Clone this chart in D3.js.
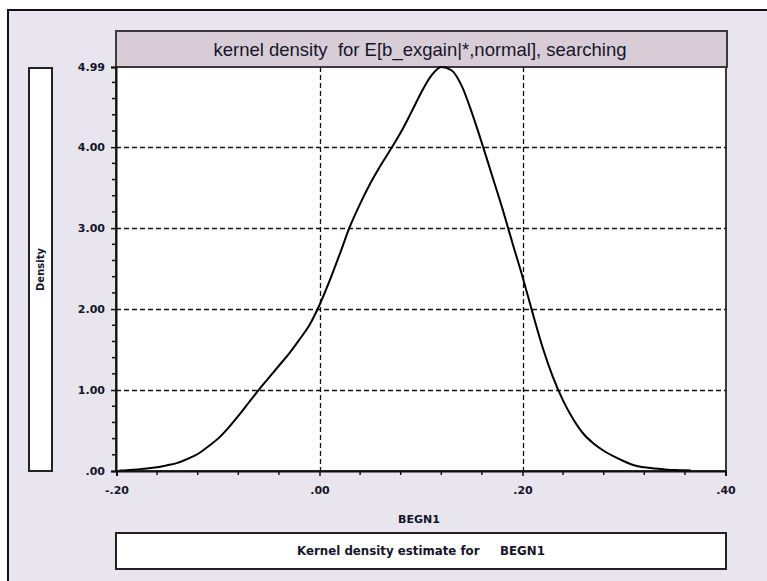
<!DOCTYPE html>
<html>
<head>
<meta charset="utf-8">
<script src="https://cdn.jsdelivr.net/npm/d3@7"></script>
<style>
  html, body { margin: 0; padding: 0; background: #ffffff; }
  svg { display: block; }
  text { font-family: "DejaVu Sans", Arial, sans-serif; fill: #15152a; }
</style>
</head>
<body>
<script>
// Kernel density estimate of BEGN1 (grid of evaluation points and density values)
const gridX = [-0.197, -0.19, -0.18, -0.17, -0.16, -0.15, -0.14, -0.13, -0.12, -0.11,
  -0.10, -0.09, -0.08, -0.07, -0.06, -0.05, -0.04, -0.03, -0.02, -0.01,
  0.00, 0.01, 0.02, 0.03, 0.04, 0.05, 0.06, 0.07, 0.08, 0.09,
  0.10, 0.11, 0.12, 0.13, 0.14, 0.15, 0.16, 0.17, 0.18, 0.19,
  0.20, 0.21, 0.22, 0.23, 0.24, 0.25, 0.26, 0.27, 0.28, 0.29,
  0.30, 0.31, 0.32, 0.33, 0.34, 0.35, 0.36, 0.366];
const density = [0.005, 0.01, 0.02, 0.03, 0.045, 0.07, 0.10, 0.15, 0.21, 0.30,
  0.40, 0.53, 0.68, 0.84, 1.00, 1.15, 1.30, 1.45, 1.62, 1.80,
  2.05, 2.35, 2.68, 3.02, 3.30, 3.55, 3.77, 3.97, 4.18, 4.42,
  4.67, 4.88, 4.99, 4.95, 4.76, 4.43, 4.05, 3.65, 3.25, 2.82,
  2.40, 1.95, 1.52, 1.16, 0.87, 0.64, 0.46, 0.34, 0.25, 0.18,
  0.12, 0.07, 0.045, 0.03, 0.02, 0.012, 0.008, 0.005];

// Axis ticks and labels
const xMajorTicks = [-0.2, 0.0, 0.2, 0.4];
const xGridTicks = [0.0, 0.2];
const yMajorTicks = [0, 1, 2, 3, 4, 4.99];
const yGridTicks = [1, 2, 3, 4];
const xMinorStep = 0.04;
const yMinorStep = 0.2;

const titleText = "kernel density  for E[b_exgain|*,normal], searching";
const xAxisTitle = "BEGN1";
const yAxisTitle = "Density";
const footerText = "Kernel density estimate for     BEGN1";

const W = 767, H = 581;
const plot = { left: 116, right: 726, top: 67, bottom: 471 };

// Two-decimal labels without the leading zero: .00, .20, -.20
const shortFmt = d => (d < 0 ? "-" : "") + d3.format(".2f")(Math.abs(d)).replace(/^0\./, ".");

const svg = d3.select("body").append("svg")
  .attr("width", W).attr("height", H);

// Outer panel
svg.append("rect").attr("x", 8).attr("y", 10).attr("width", W - 8).attr("height", H - 10)
  .attr("fill", "#e8e5ee");
svg.append("path").attr("d", `M8,${H} V10 H${W}`)
  .attr("fill", "none").attr("stroke", "#111").attr("stroke-width", 2);

const x = d3.scaleLinear().domain([-0.2, 0.4]).range([plot.left + 0.5, plot.right - 0.5]);
const y = d3.scaleLinear().domain([0, 4.99]).range([plot.bottom, plot.top]);

// Title band
svg.append("rect").attr("x", plot.left).attr("y", 31)
  .attr("width", plot.right - plot.left + 1).attr("height", plot.top - 31)
  .attr("fill", "#d8cdd6").attr("stroke", "#3a3a3a").attr("stroke-width", 2);
svg.append("text").attr("x", (plot.left + plot.right) / 2 - 1).attr("y", 56)
  .attr("text-anchor", "middle").style("white-space", "pre")
  .style("font-family", "'Liberation Sans', Arial, sans-serif")
  .style("font-size", "18.5px").text(titleText);

// Plot area
svg.append("rect").attr("x", plot.left).attr("y", plot.top)
  .attr("width", plot.right - plot.left).attr("height", plot.bottom - plot.top)
  .attr("fill", "#ffffff").attr("stroke", "#3a3a3a").attr("stroke-width", 2);

// Dashed grid
const grid = svg.append("g").attr("stroke", "#111").attr("stroke-width", 1.3)
  .attr("stroke-dasharray", "5,3").attr("fill", "none");
grid.selectAll("line.gx").data(xGridTicks).join("line")
  .attr("x1", d => Math.round(x(d)) + 0.5).attr("x2", d => Math.round(x(d)) + 0.5)
  .attr("y1", plot.top).attr("y2", plot.bottom);
grid.selectAll("line.gy").data(yGridTicks).join("line")
  .attr("y1", d => Math.round(y(d)) + 0.5).attr("y2", d => Math.round(y(d)) + 0.5)
  .attr("x1", plot.left).attr("x2", plot.right);

// Density curve
const line = d3.line().x((d, i) => x(gridX[i])).y(d => y(d)).curve(d3.curveMonotoneX);
svg.append("path").datum(density).attr("d", line)
  .attr("fill", "none").attr("stroke", "#000").attr("stroke-width", 2);

// Y axis with minor ticks
const yMinor = d3.range(0, 4.99, yMinorStep).filter(v => Math.abs(v - Math.round(v)) > 1e-6);
const yAxis = d3.axisLeft(y).tickValues(yMajorTicks).tickSize(5).tickPadding(6)
  .tickFormat(shortFmt);
const gy = svg.append("g").attr("transform", `translate(${plot.left},0)`).call(yAxis);
gy.select(".domain").attr("stroke", "#111").attr("stroke-width", 2);
gy.selectAll(".tick line").attr("stroke", "#111").attr("stroke-width", 1.5);
gy.selectAll(".tick text").style("font-size", "11px").style("font-weight", "bold")
  .attr("fill", "#15152a");
gy.selectAll("line.minor").data(yMinor).join("line").attr("class", "minor")
  .attr("x1", -4).attr("x2", 0).attr("y1", d => y(d)).attr("y2", d => y(d))
  .attr("stroke", "#111").attr("stroke-width", 1.5);

// X axis with minor ticks
const xMinor = d3.range(-0.2, 0.4, xMinorStep).filter(v => Math.abs(v * 5 - Math.round(v * 5)) > 1e-6);
const xAxis = d3.axisBottom(x).tickValues(xMajorTicks).tickSize(5).tickPadding(10)
  .tickFormat(shortFmt);
const gx = svg.append("g").attr("transform", `translate(0,${plot.bottom})`).call(xAxis);
gx.select(".domain").attr("stroke", "#111").attr("stroke-width", 2);
gx.selectAll(".tick line").attr("stroke", "#111").attr("stroke-width", 1.5);
gx.selectAll(".tick text").style("font-size", "11px").style("font-weight", "bold")
  .attr("fill", "#15152a");
gx.selectAll("line.minor").data(xMinor).join("line").attr("class", "minor")
  .attr("y1", 0).attr("y2", 4).attr("x1", d => x(d)).attr("x2", d => x(d))
  .attr("stroke", "#111").attr("stroke-width", 1.5);

// Axis titles
svg.append("text").attr("x", 419).attr("y", 523).attr("text-anchor", "middle")
  .style("font-size", "11px").style("font-weight", "bold").text(xAxisTitle);

svg.append("rect").attr("x", 29).attr("y", 68).attr("width", 23).attr("height", plot.bottom - 68)
  .attr("fill", "#ffffff").attr("stroke", "#222").attr("stroke-width", 2);
svg.append("text").attr("transform", `translate(44,${(68 + plot.bottom) / 2}) rotate(-90)`)
  .attr("text-anchor", "middle").style("font-size", "10px").style("font-weight", "bold")
  .text(yAxisTitle);

// Footer box
svg.append("rect").attr("x", plot.left).attr("y", 533).attr("width", plot.right - plot.left).attr("height", 36)
  .attr("fill", "#ffffff").attr("stroke", "#222").attr("stroke-width", 2);
svg.append("text").attr("x", 421).attr("y", 555).attr("text-anchor", "middle")
  .style("white-space", "pre").style("font-size", "11.8px").style("font-weight", "bold")
  .text(footerText);
</script>
</body>
</html>
